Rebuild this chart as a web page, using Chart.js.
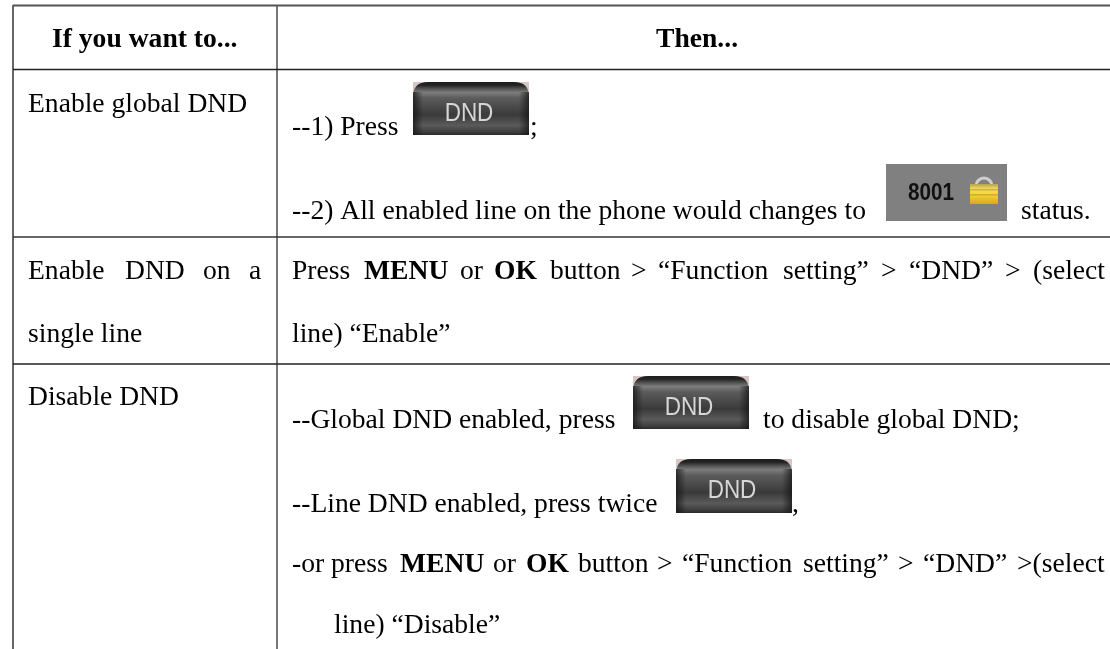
<!DOCTYPE html>
<html>
<head>
<meta charset="utf-8">
<title>DND</title>
<style>html,body{margin:0;padding:0;background:#fff}canvas{display:block}</style>
<script src="https://cdn.jsdelivr.net/npm/chart.js@4"></script>
</head>
<body>
<canvas id="c" width="1110" height="649"></canvas>
<script>
// Table text: one entry per word group
const words = [
 "If you want to...", "Then...",
 "Enable global DND", "--1) Press", ";",
 "--2) All enabled line on the phone would changes to", "status.",
 "Enable","DND","on","a","single line",
 "Press","MENU","or","OK","button",">","“Function","setting”",">","“DND”",">","(select","line) “Enable”",
 "Disable DND","--Global DND enabled, press","to disable global DND;",
 "--Line DND enabled, press twice",",",
 "-or press","MENU","or","OK","button",">","“Function","setting”",">","“DND”",">(select","line) “Disable”"
];
const wordBold = [1,1, 0,0,0, 0,0, 0,0,0,0,0, 0,1,0,1,0,0,0,0,0,0,0,0,0, 0,0,0, 0,0, 0,1,0,1,0,0,0,0,0,0,0,0];
const wordX = [52,656, 28,292,530, 292,1021, 28,125,203,249,28,
 292,364,460,494,550,631,658,783,881,909,1005,1033,292,
 28,292,763, 292,792, 292,400,493,526,578,657,682,803,898,923,1017,334];
const wordY = [47,47, 112,135,135, 219,219, 279,279,279,279,342,
 279,279,279,279,279,279,279,279,279,279,279,279,342,
 405,428,428, 512,512, 572,572,572,572,572,572,572,572,572,572,572,633];

// Table rules
const ruleXs = [[13,1110],[13,1110],[13,1110],[13,1110],[13,13],[277,277]];
const ruleYs = [[5.5,5.5],[69.5,69.5],[237,237],[364,364],[5,649],[5,649]];
const ruleColors = ["#555","#222","#333","#222","#666","#555"];
const ruleWidths = [2,1.6,1.6,1.6,2,1.6];

// Button images
const btnLabel = "DND";
const btnLeft = [413,633,676];
const btnTop = [82,376,459];
const btnRight = [529,749,792];
const btnBottom = [135,429,513];
const statusLabel = "8001";
const statusBox = [886,164,1007,221];

function roundTop(ctx,x0,y0,x1,y1,r){
  ctx.beginPath();
  ctx.moveTo(x0,y1);ctx.lineTo(x0,y0+r);
  ctx.quadraticCurveTo(x0,y0,x0+r,y0);
  ctx.lineTo(x1-r,y0);
  ctx.quadraticCurveTo(x1,y0,x1,y0+r);
  ctx.lineTo(x1,y1);ctx.closePath();
}
function drawButton(ctx,x0,y0,x1,y1){
  ctx.fillStyle="#d9c6c2";ctx.fillRect(x0,y0,x1-x0,y1-y0);
  const h=y1-y0;
  const g=ctx.createLinearGradient(0,y0,0,y1);
  g.addColorStop(0,"#1c1c1c");g.addColorStop(0.06,"#242424");
  g.addColorStop(0.13,"#555");g.addColorStop(0.2,"#7d7d7d");g.addColorStop(0.3,"#5c5c5c");
  g.addColorStop(0.62,"#3a3a3a");g.addColorStop(0.82,"#5a5a5a");g.addColorStop(0.95,"#3c3c3c");g.addColorStop(1,"#2a2a2a");
  ctx.fillStyle=g;roundTop(ctx,x0,y0,x1,y1,15);ctx.fill();
  // side shading
  let s=ctx.createLinearGradient(x0,0,x0+10,0);
  s.addColorStop(0,"rgba(20,20,20,.75)");s.addColorStop(1,"rgba(20,20,20,0)");
  ctx.fillStyle=s;ctx.fillRect(x0,y0+10,10,h-10);
  s=ctx.createLinearGradient(x1-10,0,x1,0);
  s.addColorStop(0,"rgba(20,20,20,0)");s.addColorStop(1,"rgba(20,20,20,.75)");
  ctx.fillStyle=s;ctx.fillRect(x1-10,y0+10,10,h-10);
  ctx.save();
  ctx.translate((x0+x1)/2-2,y0+39);
  ctx.scale(0.9,1);
  ctx.font="25px 'Liberation Sans'";ctx.textAlign="center";ctx.textBaseline="alphabetic";
  ctx.fillStyle="#d6d6d6";ctx.fillText(btnLabel,0,0);
  ctx.restore();
}
function drawStatus(ctx,x0,y0,x1,y1){
  ctx.fillStyle="#808080";ctx.fillRect(x0,y0,x1-x0,y1-y0);
  ctx.save();
  ctx.translate(x0+45,y0+36);ctx.scale(0.9,1);
  ctx.font="bold 23px 'Liberation Sans'";ctx.textAlign="center";ctx.textBaseline="alphabetic";
  ctx.fillStyle="#111";ctx.fillText(statusLabel,0,0);
  ctx.restore();
  const lx=x0+84,ly=y0+22,lw=28,lh=18;
  ctx.strokeStyle="#cfcfcf";ctx.lineWidth=3;
  ctx.beginPath();ctx.arc(lx+lw/2,ly,8,Math.PI,0);ctx.stroke();
  const g=ctx.createLinearGradient(0,ly-2,0,ly+lh);
  g.addColorStop(0,"#b9a24a");g.addColorStop(.25,"#f4dc5c");g.addColorStop(.5,"#f7d53a");g.addColorStop(1,"#d9a81c");
  ctx.fillStyle=g;ctx.fillRect(lx,ly-2,lw,lh+2);
  ctx.fillStyle="rgba(160,130,30,.45)";
  ctx.fillRect(lx,ly+3,lw,1.5);ctx.fillRect(lx,ly+8,lw,1.5);
}
const tablePlugin={
  id:"tablePlugin",
  afterDatasetsDraw(chart){
    const ctx=chart.ctx,sx=chart.scales.x,sy=chart.scales.y;
    ctx.save();
    btnLeft.forEach((l,i)=>drawButton(ctx,sx.getPixelForValue(l),sy.getPixelForValue(btnTop[i]),sx.getPixelForValue(btnRight[i]),sy.getPixelForValue(btnBottom[i])));
    drawStatus(ctx,sx.getPixelForValue(statusBox[0]),sy.getPixelForValue(statusBox[1]),sx.getPixelForValue(statusBox[2]),sy.getPixelForValue(statusBox[3]));
    ctx.textAlign="left";ctx.textBaseline="alphabetic";ctx.fillStyle="#000";
    words.forEach((w,i)=>{
      ctx.font=(wordBold[i]?"bold ":"")+"27.6px 'Liberation Serif'";
      ctx.fillText(w,sx.getPixelForValue(wordX[i]),sy.getPixelForValue(wordY[i]));
    });
    ctx.restore();
  }
};
new Chart(document.getElementById("c"),{
  type:"scatter",
  data:{datasets:ruleXs.map((xs,i)=>({
    data:xs.map((x,j)=>({x:x,y:ruleYs[i][j]})),
    showLine:true,pointRadius:0,borderColor:ruleColors[i],borderWidth:ruleWidths[i],fill:false,clip:false
  }))},
  options:{
    responsive:false,animation:false,devicePixelRatio:1,
    layout:{padding:0},
    plugins:{legend:{display:false},title:{display:false},tooltip:{enabled:false}},
    scales:{
      x:{type:"linear",min:0,max:1110,display:false},
      y:{type:"linear",min:0,max:649,reverse:true,display:false}
    }
  },
  plugins:[tablePlugin]
});
</script>
</body>
</html>
